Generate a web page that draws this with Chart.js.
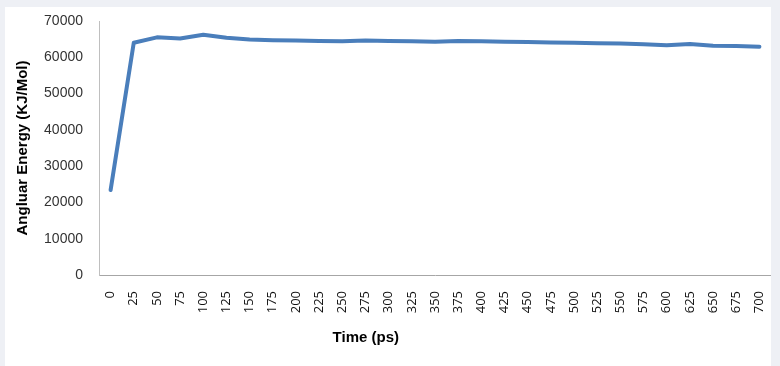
<!DOCTYPE html>
<html>
<head>
<meta charset="utf-8">
<script src="https://cdn.jsdelivr.net/npm/chart.js@4/dist/chart.umd.min.js"></script>
<style>
    html, body {
        margin: 0;
        padding: 0;
        background: #eef0f5;
    }
    .panel {
        position: absolute;
        left: 5px;
        top: 7px;
        width: 766px;
        height: 359px;
        background: #ffffff;
    }
</style>
</head>
<body>
<div class="panel">
    <canvas id="energyChart" width="766" height="359"></canvas>
</div>
<script>
// Time steps (ps) on the x axis
const timeLabels = [0, 25, 50, 75, 100, 125, 150, 175, 200, 225, 250, 275, 300, 325, 350,
    375, 400, 425, 450, 475, 500, 525, 550, 575, 600, 625, 650, 675, 700];

// Angular energy (KJ/Mol)
const energyValues = [23400, 64000, 65500, 65200, 66200, 65400, 64900, 64700, 64600, 64500,
    64400, 64600, 64500, 64400, 64300, 64500, 64400, 64300, 64200, 64100,
    64000, 63900, 63800, 63600, 63300, 63650, 63200, 63100, 62900];

const yTicks = [0, 10000, 20000, 30000, 40000, 50000, 60000, 70000];

const xTitle = 'Time (ps)';
const yTitle = 'Angluar Energy (KJ/Mol)';

// x axis title sits left of the plot centre in the original, so draw it by hand
const xTitlePlugin = {
    id: 'xTitle',
    afterDraw(chart) {
        const ctx = chart.ctx;
        const area = chart.chartArea;
        ctx.save();
        ctx.font = "bold 15px 'Liberation Sans', Arial, sans-serif";
        ctx.fillStyle = '#000000';
        ctx.textAlign = 'center';
        ctx.textBaseline = 'middle';
        ctx.fillText(xTitle, area.left + area.width * 0.397, 331);
        ctx.restore();
    }
};

const ctx = document.getElementById('energyChart').getContext('2d');

new Chart(ctx, {
    type: 'line',
    data: {
        labels: timeLabels,
        datasets: [{
            label: yTitle,
            data: energyValues,
            borderColor: '#4a7ebb',
            borderWidth: 4,
            borderJoinStyle: 'round',
            borderCapStyle: 'round',
            pointRadius: 0,
            tension: 0,
            fill: false
        }]
    },
    options: {
        responsive: false,
        animation: false,
        layout: {
            padding: { left: 9, top: 14, right: 0, bottom: 0 }
        },
        plugins: {
            legend: { display: false },
            tooltip: { enabled: false }
        },
        scales: {
            x: {
                offset: true,
                grid: { display: false, drawTicks: false },
                border: { display: true, color: '#a6a6a6', width: 1 },
                ticks: {
                    minRotation: 90,
                    maxRotation: 90,
                    autoSkip: false,
                    padding: 16,
                    color: '#111111',
                    font: { family: "'Open Sans', sans-serif", size: 13 }
                },
                afterFit(scale) {
                    scale.height = 91;
                    scale.paddingLeft = 0;
                    scale.paddingRight = 0;
                }
            },
            y: {
                min: 0,
                max: 70000,
                afterBuildTicks(scale) {
                    scale.ticks = yTicks.map(v => ({ value: v }));
                },
                grid: { display: false, drawTicks: false },
                border: { display: true, color: '#bfbfbf', width: 1 },
                ticks: {
                    padding: 16,
                    color: '#333333',
                    font: { family: "'Liberation Sans', Arial, sans-serif", size: 14 },
                    callback: value => String(value)
                },
                title: {
                    display: true,
                    text: yTitle,
                    color: '#000000',
                    padding: 0,
                    font: { family: "'Liberation Sans', Arial, sans-serif", size: 15, weight: 'bold' }
                },
                afterFit(scale) {
                    scale.width = 85;
                    scale.paddingTop = 0;
                    scale.paddingBottom = 0;
                }
            }
        }
    },
    plugins: [xTitlePlugin]
});
</script>
</body>
</html>
